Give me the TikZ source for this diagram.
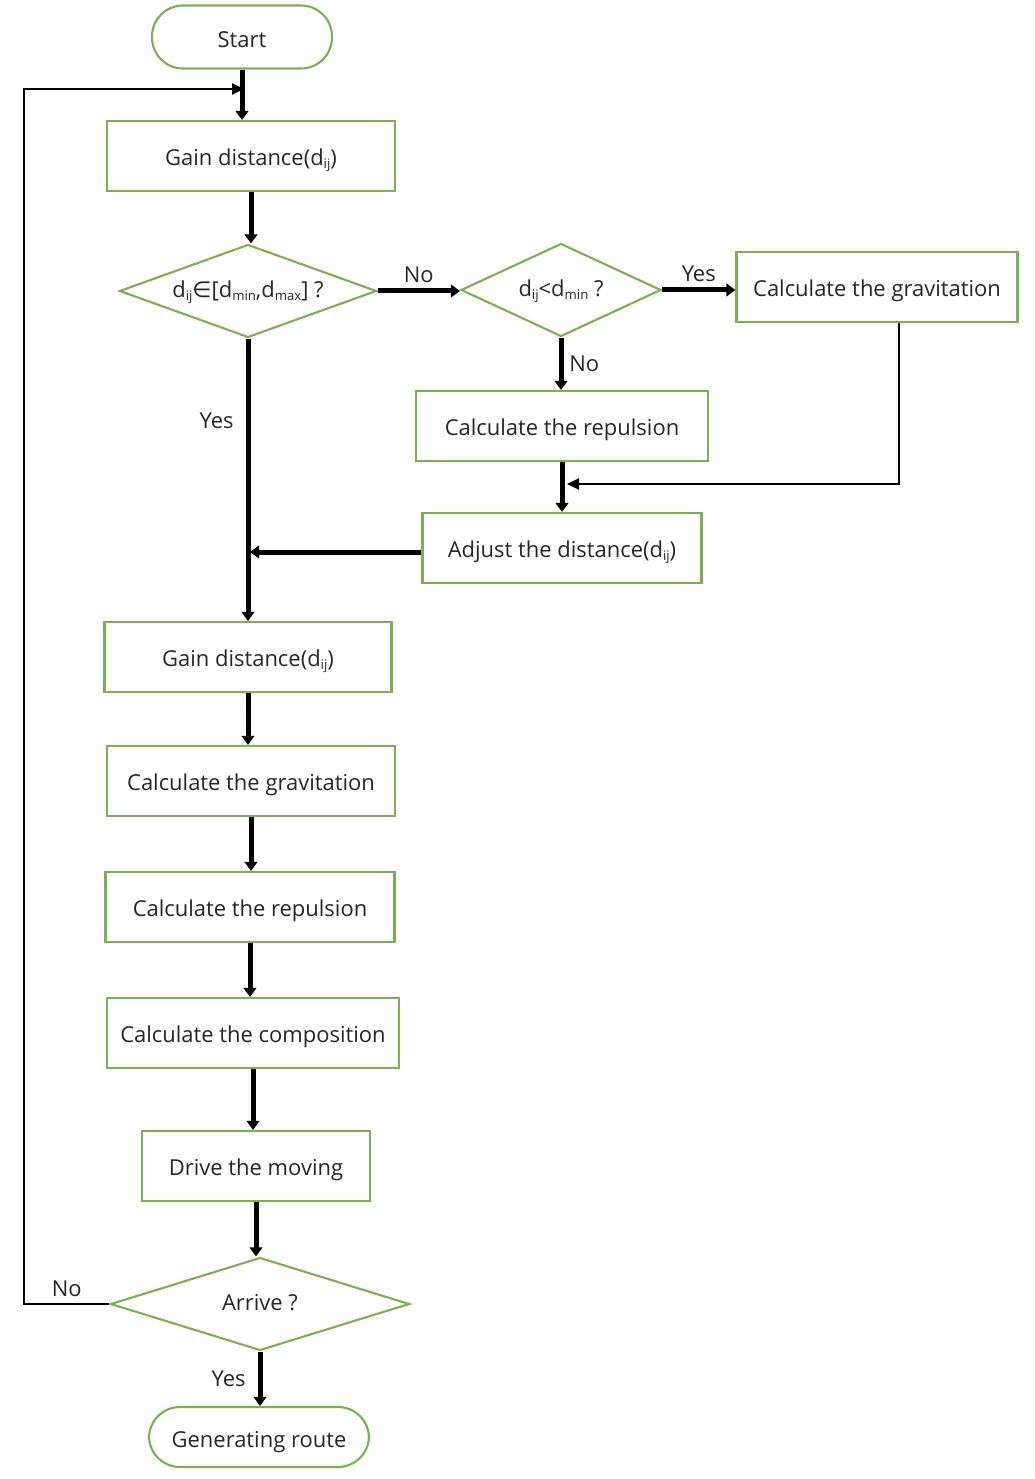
\documentclass[tikz,border=0pt]{standalone}
\usepackage{fontspec}
\setmainfont{Open Sans}
\newfontfamily\symfont{DejaVu Sans}
\usetikzlibrary{arrows.meta,shapes.geometric,positioning,calc}
\definecolor{BoxGreen}{RGB}{122,178,82}
\definecolor{InkGray}{RGB}{38,38,38}
\newlength\px
\setlength\px{0.02cm}
\newcommand\lowidx[1]{\raisebox{-0.25ex}{\fontsize{7.5}{8}\selectfont #1}}

\begin{document}
\begin{tikzpicture}[x=\px,y=-\px,
        terminal/.style={draw=BoxGreen,line width=1.2pt,rounded corners=0.62cm,
                         minimum height=63\px,font=\fontsize{12.5}{15}\selectfont,text=InkGray,
                         text height=14pt,text depth=2pt},
        process/.style={draw=BoxGreen,line width=1.2pt,minimum width=288\px,
                        minimum height=70\px,font=\fontsize{12.5}{15}\selectfont,text=InkGray,
                        text height=13.5pt,text depth=2.2pt},
        decision/.style={diamond,draw=BoxGreen,line width=1.2pt,inner sep=0pt,
                         minimum width=257\px,minimum height=93\px,aspect=2.76,
                         font=\fontsize{12.5}{15}\selectfont,text=InkGray,
                         text height=10pt,text depth=2.4pt},
        flow/.style={-{Triangle[width=0.25cm,length=0.18cm]},line width=0.1cm,black},
        back/.style={-{Triangle[width=0.22cm,length=0.24cm]},line width=0.04cm,black},
        lbl/.style={font=\fontsize{12.5}{15}\selectfont,text=InkGray}
      ]
        \useasboundingbox (0,0) rectangle (1034,1479);
        % main column
        \node[terminal,minimum width=180\px] (start) at (242,37) {Start};
        \node[process] (gain1) at (251,156) {Gain distance(d\lowidx{ij})};
        \node[decision] (range) at (248,291)
          {d\lowidx{ij}{\symfont∈}[d\lowidx{min},d\lowidx{max}] ?};
        \node[decision,minimum width=200\px,aspect=2.15] (less) at (561,290)
          {d\lowidx{ij}<d\lowidx{min} ?};
        \node[process,minimum width=281\px] (grav1) at (877,287) {Calculate the gravitation};
        \node[process,minimum width=292\px] (rep1) at (562,426) {Calculate the repulsion};
        \node[process,minimum width=279\px] (adjust) at (562,548) {Adjust the distance(d\lowidx{ij})};
        \node[process,minimum width=287\px] (gain2) at (248,657) {Gain distance(d\lowidx{ij})};
        \node[process] (grav2) at (251,781) {Calculate the gravitation};
        \node[process,minimum width=289\px] (rep2) at (250,907) {Calculate the repulsion};
        \node[process,minimum width=292\px] (comp) at (253,1033) {Calculate the composition};
        \node[process,minimum width=228\px] (drive) at (256,1166) {Drive the moving};
        \node[decision,minimum width=299\px,aspect=3.2] (arrive) at (260,1304) {Arrive ?};
        \node[terminal,minimum width=220\px,minimum height=60\px] (route) at (259,1437) {Generating route};
        % free ends
        \coordinate (merge) at (244,89);
        \coordinate (loopleft) at (24,1304);
        \coordinate (joinrep) at (567,484);
        \coordinate (joinyes) at (250,552);
        % connectors
        \draw[flow] (start.south) -- (start.south |- gain1.north);
        \draw[flow] (gain1.south) -- (gain1.south |- range.north);
        \draw[flow] (range.east) -- (range.east -| less.west) node[midway,above,lbl]{No};
        \draw[flow] (less.east) -- (less.east -| grav1.west) node[midway,above,lbl]{Yes};
        \draw[flow] (less.south) -- (less.south |- rep1.north) node[midway,right,lbl]{No};
        \draw[flow] (rep1.south) -- (rep1.south |- adjust.north);
        \draw[flow] (range.south) -- (range.south |- gain2.north) node[pos=0.29,left=6\px,lbl]{Yes};
        \draw[flow] (adjust.west |- joinyes) -- (joinyes);
        \draw[flow] (gain2.south) -- (gain2.south |- grav2.north);
        \draw[flow] (grav2.south) -- (grav2.south |- rep2.north);
        \draw[flow] (rep2.south) -- (rep2.south |- comp.north);
        \draw[flow] (comp.south) -- (comp.south |- drive.north);
        \draw[flow] (drive.south) -- (drive.south |- arrive.north);
        \draw[flow] (arrive.south) -- (arrive.south |- route.north) node[midway,left=6\px,lbl]{Yes};
        \draw[back] ($(grav1.south)+(22,0)$) |- (joinrep);
        \draw[back] (arrive.west) -- (loopleft) node[pos=0.5,above,lbl]{No} |- (merge);
      \end{tikzpicture}
\end{document}
